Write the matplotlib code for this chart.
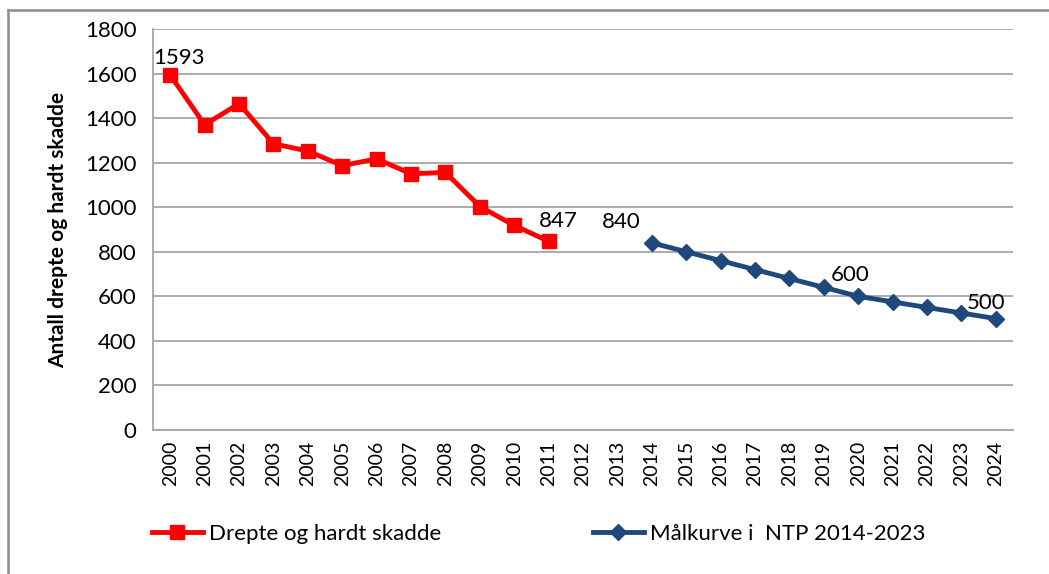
import numpy as np
import matplotlib
matplotlib.use("Agg")
import matplotlib.pyplot as plt
from matplotlib.lines import Line2D

plt.rcParams['font.family'] = ['Lato', 'DejaVu Sans']

# data
years = [str(y) for y in range(2000, 2025)]
drepte_years = list(range(2000, 2012))
drepte = [1593, 1370, 1465, 1285, 1252, 1187, 1217, 1150, 1156, 1003, 918, 847]
maal_years = list(range(2014, 2025))
maal = [840, 800, 760, 720, 680, 640, 600, 575, 550, 525, 500]
label_drepte = "Drepte og hardt skadde"
label_maal = "Målkurve i  NTP 2014-2023"

fig = plt.figure(figsize=(10.49, 5.74), dpi=100)
ax = fig.add_axes([0.1459, 0.2509, 0.8198, 0.6986])

xd = [y - 2000 for y in drepte_years]
xm = [y - 2000 for y in maal_years]
ax.plot(xd, drepte, color='#FF0000', lw=3.5, marker='s', ms=10, label=label_drepte)
ax.plot(xm, maal, color='#1F497D', lw=3.5, marker='D', ms=8.5, label=label_maal)

# data labels
fs_lab = 16
ax.annotate(str(drepte[0]), (xd[0], drepte[0]), xytext=(-12, 8), textcoords='offset points', fontsize=fs_lab)
ax.annotate(str(drepte[-1]), (xd[-1], drepte[-1]), xytext=(-7, 10), textcoords='offset points', fontsize=fs_lab)
ax.annotate(str(maal[0]), (xm[0], maal[0]), xytext=(-36, 11), textcoords='offset points', fontsize=fs_lab)
ax.annotate(str(maal[6]), (xm[6], maal[6]), xytext=(-20, 11), textcoords='offset points', fontsize=fs_lab)
ax.annotate(str(maal[-1]), (xm[-1], maal[-1]), xytext=(-21, 7), textcoords='offset points', fontsize=fs_lab)

ax.set_xlim(-0.5, len(years) - 0.5)
ax.set_ylim(0, 1800)
ax.set_yticks(np.arange(0, 1801, 200))
ax.set_xticks(range(len(years)))
ax.set_xticklabels(years, rotation=90, fontsize=14)
ax.tick_params(axis='y', labelsize=16, length=0, pad=12)
ax.tick_params(axis='x', length=0, pad=8)
ax.grid(axis='y', color='#A6A6A6', lw=1.3)
ax.set_axisbelow(True)
for s in ['top', 'right']:
    ax.spines[s].set_visible(False)
for s in ['left', 'bottom']:
    ax.spines[s].set_color('#A6A6A6')
    ax.spines[s].set_linewidth(1.3)

ax.set_ylabel("Antall drepte og hardt skadde", fontsize=15, fontweight='bold', labelpad=12)

ax.legend(loc='center left', bbox_to_anchor=(-0.025, -0.26), ncol=2, frameon=False,
          fontsize=16, handlelength=2.3, handletextpad=0.3, columnspacing=6.8)

# outer frame: only left and top edges are visible in the original
fig.add_artist(Line2D([0.008, 0.008], [0.0, 0.983], transform=fig.transFigure, color='#8C8C8C', lw=1.8))
fig.add_artist(Line2D([0.008, 1.0], [0.983, 0.983], transform=fig.transFigure, color='#8C8C8C', lw=1.8))

fig.savefig("out.png", dpi=100)
